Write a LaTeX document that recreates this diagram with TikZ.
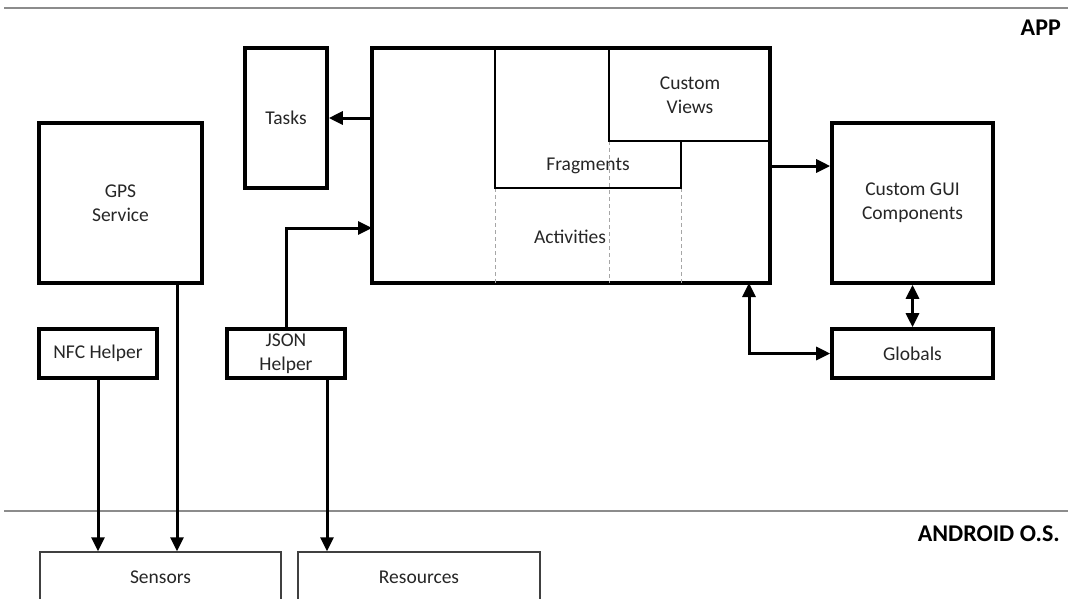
\documentclass[tikz,border=0pt]{standalone}
\usepackage{fontspec}
\setmainfont{Carlito}
\usetikzlibrary{arrows.meta}
\tikzset{
  base/.style={font=\fontsize{19.5}{24}\selectfont, text=black!85, align=center, inner sep=0pt},
  block/.style={base, draw=black, line width=3.6pt},
  osblock/.style={base, draw=black!75, line width=1.5pt},
  part/.style={draw=black, line width=1.8pt},
  guide/.style={draw=black!35, line width=1pt, dash pattern=on 4pt off 3pt},
  layer/.style={draw=black!45, line width=1.8pt},
  layertitle/.style={font=\fontsize{24}{28}\selectfont\bfseries, text=black, anchor=east, inner sep=0pt},
  tip/.tip={Triangle[length=14pt,width=13pt]},
  link/.style={line width=3pt, -tip},
  link2/.style={line width=3pt, tip-tip}
}
\begin{document}
\begin{tikzpicture}[x=1pt,y=-1pt]
\useasboundingbox (0,0) rectangle (1068,598);
\clip (0,0) rectangle (1068,598);
\fill[white] (0,0) rectangle (1068,598);

% layer separators and titles
\draw[layer] (4,8) -- (1068,8);
\draw[layer] (4,511) -- (1068,511);
\node[layertitle] (app) at (1061,28) {APP};
\node[layertitle] (os) at (1060,534) {ANDROID O.S.};

% main application block with its nested parts
\node[block, minimum width=398pt, minimum height=235pt] (main) at (571,165.5) {};
\draw[guide] (495,188) -- (495,283);
\draw[guide] (609,141) -- (609,283);
\draw[guide] (681,188) -- (681,283);
\draw[part] (495,48) -- (495,188) -- (681,188) -- (681,141);
\draw[part] (609,48) -- (609,141) -- (770,141);
\node[base] (views) at (690,95) {Custom\\Views};
\node[base] (frag) at (588,166) {Fragments};
\node[base] (act) at (570,237) {Activities};

% application components
\node[block, minimum width=82pt, minimum height=140pt] (tasks) at (286,118) {};
\node[base] (taskslbl) at (286,118) {Tasks};
\node[block, minimum width=163pt, minimum height=160pt] (gps) at (120.5,203) {GPS\\Service};
\node[block, minimum width=118pt, minimum height=49pt] (nfc) at (98,353.5) {NFC Helper};
\node[block, minimum width=118pt, minimum height=49pt] (json) at (286,353.5) {JSON\\Helper};
\node[block, minimum width=161pt, minimum height=160pt] (gui) at (912.5,203) {Custom GUI\\Components};
\node[block, minimum width=161pt, minimum height=49pt] (globals) at (912.5,353.5) {Globals};

% operating system blocks
\node[osblock, minimum width=241pt, minimum height=70pt] (sensors) at (160.5,587) {};
\node[base] (sensorslbl) at (160.5,577) {Sensors};
\node[osblock, minimum width=242pt, minimum height=70pt] (res) at (419,587) {};
\node[base] (reslbl) at (419,577) {Resources};

% connection ports
\coordinate (jsonport) at (372,228);
\coordinate (globport) at (749,283);
\coordinate (gpsout) at (177,283);
\coordinate (jsonout) at (327,378);

% connectors
\draw[link] (main.west |- tasks.east) -- (tasks.east);
\draw[link] (json.north) |- (jsonport);
\draw[link] (main.east |- 0,166) -- (gui.west |- 0,166);
\draw[link2] (gui.south) -- (globals.north);
\draw[link2] (globport) |- (globals.west);
\draw[link] (nfc.south) -- (nfc.south |- sensors.north);
\draw[link] (gpsout) -- (gpsout |- sensors.north);
\draw[link] (jsonout) -- (jsonout |- res.north);
\end{tikzpicture}
\end{document}
